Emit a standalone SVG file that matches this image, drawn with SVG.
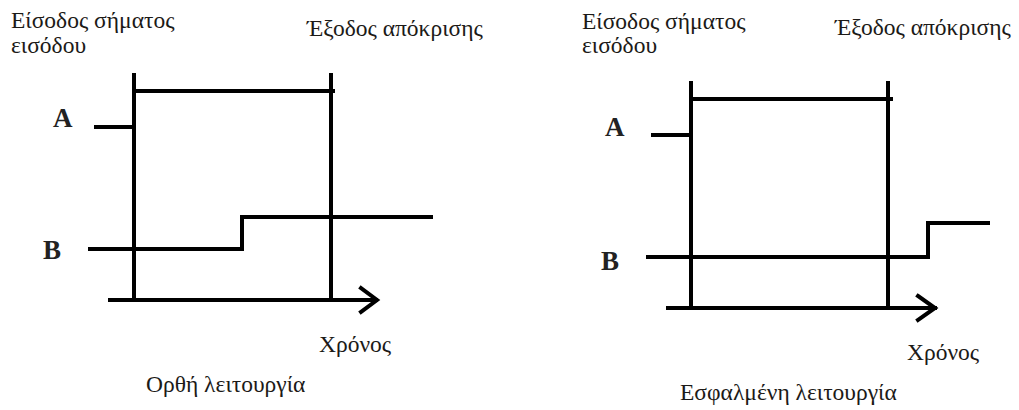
<svg xmlns="http://www.w3.org/2000/svg" width="1019" height="410" viewBox="0 0 1019 410">
<style>
.t{font-family:"Liberation Serif","Times New Roman",serif;font-size:23.5px;fill:#1c1a17}
.l{font-family:"Liberation Serif","Times New Roman",serif;font-size:27px;font-weight:bold;fill:#222}
.w{fill:none;stroke:#000;stroke-width:4;stroke-linecap:square;stroke-linejoin:miter}
</style>
<rect width="1019" height="410" fill="#fff"/>
<g id="left-diagram">
  <g id="left-labels">
    <text class="t" x="11" y="28">Είσοδος σήματος</text>
    <text class="t" x="11" y="53">εισόδου</text>
    <text class="t" x="307" y="36">Έξοδος απόκρισης</text>
    <text class="l" x="53" y="127">A</text>
    <text class="l" x="43" y="259">B</text>
    <text class="t" x="319" y="352">Χρόνος</text>
    <text class="t" x="146" y="392">Ορθή λειτουργία</text>
  </g>
  <g id="left-connectors">
    <line class="w" x1="134" y1="75" x2="134" y2="299"/>
    <line class="w" x1="331" y1="75" x2="331" y2="298"/>
    <polyline class="w" points="96,127 134,127 134,91 333,91"/>
    <polyline class="w" points="90,249 242,249 242,217 431,217"/>
    <line class="w" x1="110" y1="300" x2="376" y2="300"/>
    <polyline class="w" points="361,288 377,300 361,312"/>
  </g>
</g>
<g id="right-diagram">
  <g id="right-labels">
    <text class="t" x="582" y="29">Είσοδος σήματος</text>
    <text class="t" x="582" y="53">εισόδου</text>
    <text class="t" x="835" y="35">Έξοδος απόκρισης</text>
    <text class="l" x="605" y="136">A</text>
    <text class="l" x="601" y="270">B</text>
    <text class="t" x="907" y="360">Χρόνος</text>
    <text class="t" x="680" y="400">Εσφαλμένη λειτουργία</text>
  </g>
  <g id="right-connectors">
    <line class="w" x1="691" y1="83" x2="691" y2="307"/>
    <line class="w" x1="888" y1="83" x2="888" y2="307"/>
    <polyline class="w" points="653,135 691,135 691,99 891,99"/>
    <polyline class="w" points="648,257 928,257 928,223 988,223"/>
    <line class="w" x1="668" y1="308" x2="935" y2="308"/>
    <polyline class="w" points="918,296 935,308 918,320"/>
  </g>
</g>
</svg>
